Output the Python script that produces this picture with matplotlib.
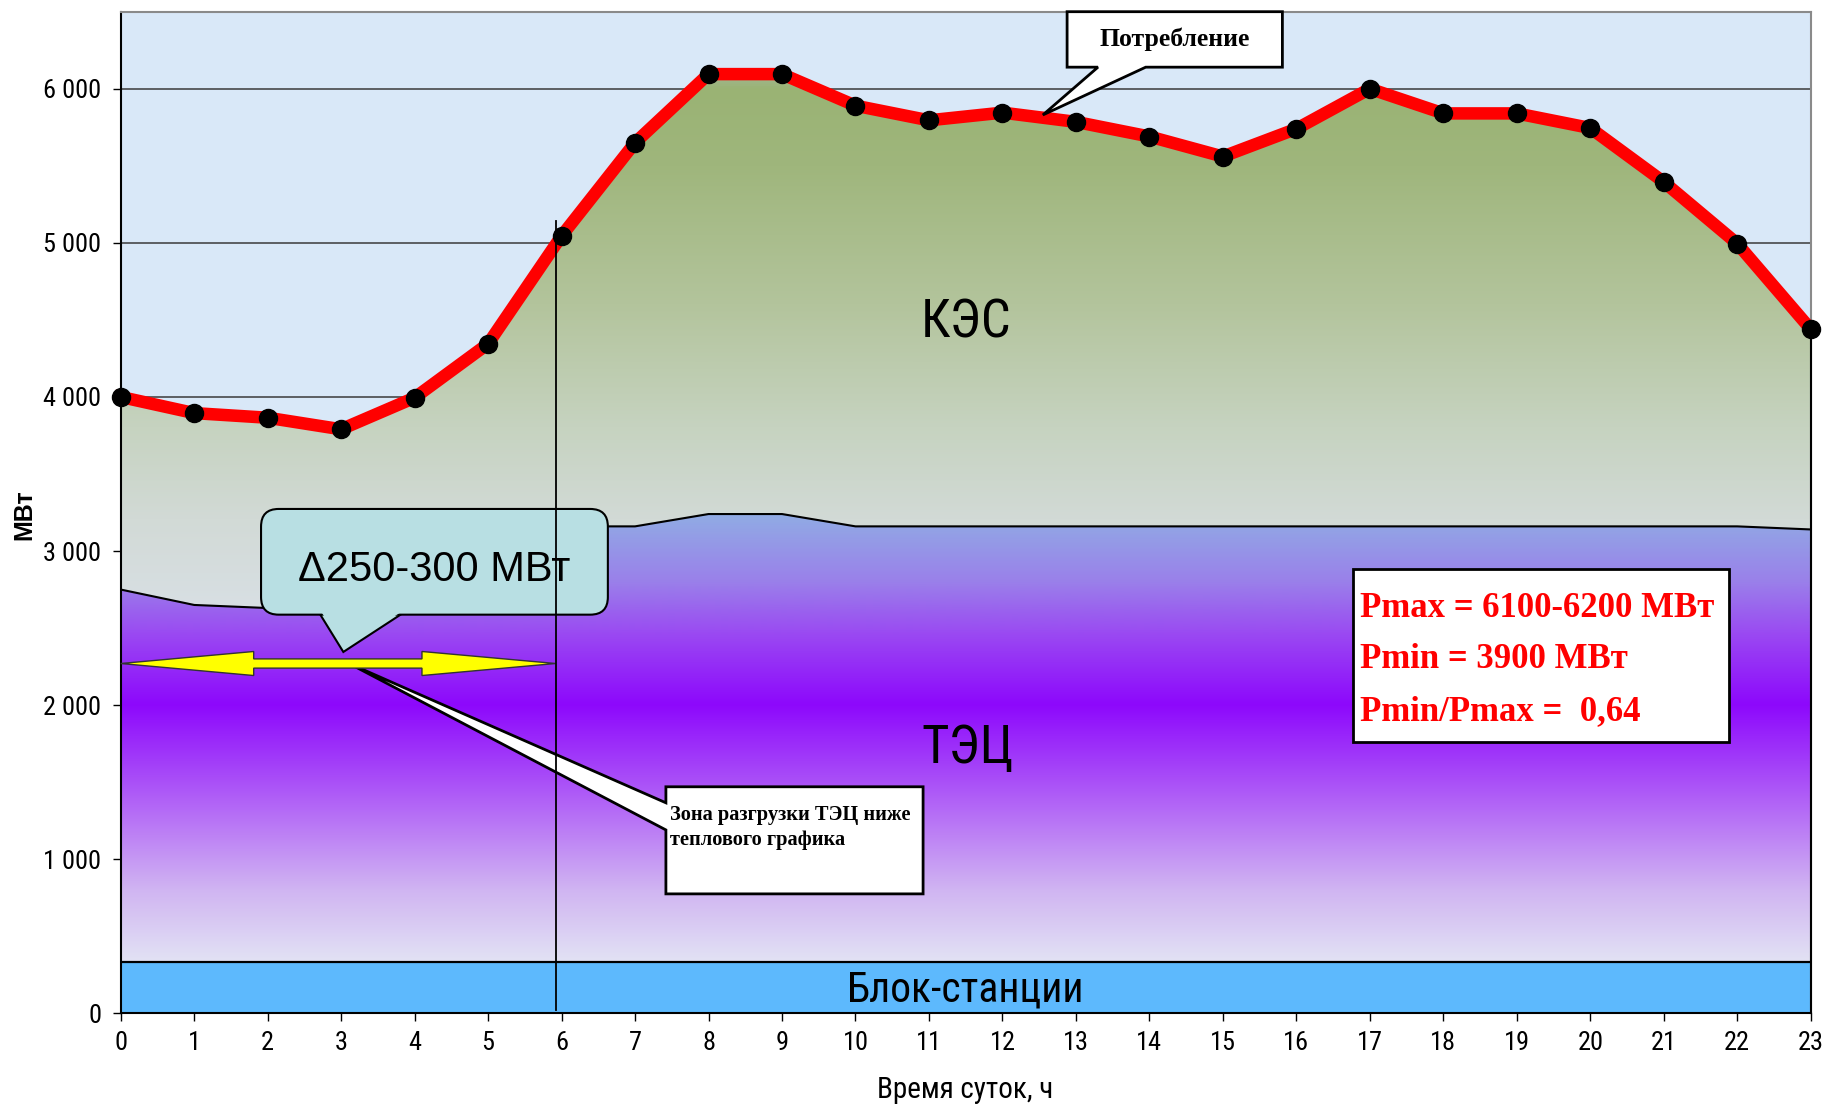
import numpy as np
import matplotlib.pyplot as plt
from matplotlib.colors import LinearSegmentedColormap
from matplotlib.patches import Polygon, Rectangle, FancyBboxPatch

plt.rcParams['font.family'] = ['Roboto Condensed', 'Liberation Sans', 'DejaVu Sans']
SERIF = ['Liberation Serif', 'DejaVu Serif']

# данные
hours = list(range(24))
consumption = [4000, 3895, 3865, 3790, 3995, 4345, 5045, 5650, 6095, 6095, 5890, 5795,
               5845, 5785, 5690, 5560, 5740, 6000, 5840, 5840, 5745, 5395, 4995, 4440]
tec_hours = [0, 1, 2, 3, 4, 5, 5.93, 5.93, 7, 8, 9, 10, 11, 12, 13, 14, 15, 16,
             17, 18, 19, 20, 21, 22, 23]
tec_top = [2750, 2650, 2630, 2620, 2610, 2600, 2600, 3160, 3160, 3240, 3240, 3160, 3160,
           3160, 3160, 3160, 3160, 3160, 3160, 3160, 3160, 3160, 3160, 3160, 3140]
block = 330
yticks = [0, 1000, 2000, 3000, 4000, 5000, 6000]
ylabels = ['0', '1 000', '2 000', '3 000', '4 000', '5 000', '6 000']
xticks = list(range(24))

W, H = 1828, 1107
fig = plt.figure(figsize=(W / 100, H / 100), dpi=100)
ax = fig.add_axes([120.7 / W, 1 - 1013.3 / H, 1690 / W, 1001.6 / H])
ax.set_facecolor('#d9e8f8')


def gradient_fill(verts, y0, y1, stops, z):
    poly = Polygon(verts, closed=True, facecolor='none', edgecolor='none')
    ax.add_patch(poly)
    cm = LinearSegmentedColormap.from_list(
        'g', [((v - y0) / (y1 - y0), c) for v, c in stops])
    img = ax.imshow(np.linspace(0, 1, 512).reshape(-1, 1), extent=(0, 23, y0, y1),
                    origin='lower', aspect='auto', cmap=cm, zorder=z,
                    interpolation='bilinear')
    img.set_clip_path(poly)


# блок-станции
ax.add_patch(Rectangle((0, 0), 23, block, facecolor='#5db9fd', edgecolor='none', zorder=2))
ax.plot([0, 23], [block, block], color='black', lw=1.6, zorder=3)

# ТЭЦ
tec_verts = list(zip(tec_hours, tec_top)) + [(23, block), (0, block)]
gradient_fill(tec_verts, block, 3260,
              [(block, '#e2e2f4'), (800, '#d0b4f2'), (1300, '#b56cf6'),
               (2000, '#8d08fc'), (2450, '#9a48f2'), (2800, '#9a80ea'), (3260, '#90aee4')], 1.5)
ax.plot(tec_hours, tec_top, color='black', lw=1.5, zorder=3)

# КЭС
kes_verts = list(zip(hours, consumption)) + list(zip(tec_hours[::-1], tec_top[::-1]))
gradient_fill(kes_verts, 2500, 6200,
              [(2500, '#d9e0e6'), (3200, '#d2dad6'), (3800, '#c6d3c0'), (4600, '#b3c49c'),
               (5500, '#9fb67c'), (6000, '#9ab374'), (6200, '#aabcb8')], 1.5)
ax.plot([23, 23], [0, consumption[-1]], color='black', lw=1.5, zorder=3, clip_on=False)

ax.set_xlim(0, 23)
ax.set_ylim(0, 6500)

# сетка
for y in yticks[1:]:
    ax.axhline(y, color='#3a3a3a', lw=1.1, zorder=0.5)

# потребление
ax.plot(hours, consumption, color='#ff0000', lw=9, zorder=5, clip_on=False,
        marker='o', ms=13, mfc='black', mec='black')

# подписи зон
ax.text(11.5, 4480, 'КЭС', fontsize=38, ha='center', va='center', zorder=6)
ax.text(11.53, 1720, 'ТЭЦ', fontsize=38, ha='center', va='center', zorder=6)
ax.text(11.5, 150, 'Блок-станции', fontsize=30, ha='center', va='center', zorder=6)

# выноска "Потребление"
p_box = [(12.88, 6500), (15.81, 6500), (15.81, 6140), (13.95, 6140), (12.55, 5830),
         (13.3, 6140), (12.88, 6140)]
ax.add_patch(Polygon(p_box, closed=True, facecolor='white', edgecolor='black', lw=2,
                     zorder=7, clip_on=False))
ax.text(14.35, 6320, 'Потребление', family=SERIF, fontweight='bold',
        fontsize=18.5, ha='center', va='center', zorder=8)

# выноска "Зона разгрузки"
z_box = [(7.42, 1470), (10.92, 1470), (10.92, 775), (7.42, 775), (7.42, 1190),
         (3.1, 2272), (7.42, 1366)]
ax.add_patch(Polygon(z_box, closed=True, facecolor='white', edgecolor='black', lw=2,
                     zorder=6))
ax.text(7.48, 1256, 'Зона разгрузки ТЭЦ ниже', family=SERIF,
        fontweight='bold', fontsize=14.7, ha='left', va='baseline', zorder=8)
ax.text(7.48, 1094, 'теплового графика', family=SERIF,
        fontweight='bold', fontsize=14.7, ha='left', va='baseline', zorder=8)

# двойная стрелка
yc = 2270
arrow = [(0, yc), (1.81, yc + 78), (1.81, yc + 30), (4.10, yc + 30), (4.10, yc + 78),
         (5.92, yc), (4.10, yc - 78), (4.10, yc - 30), (1.81, yc - 30), (1.81, yc - 78)]
ax.add_patch(Polygon(arrow, closed=True, facecolor='#ffff00', edgecolor='#333333', lw=1,
                     zorder=7, clip_on=False))

# выноска "Δ250-300 МВт"
d_color = '#b8dfe3'
tail = [(2.70, 2600), (3.03, 2345), (3.85, 2600)]
ax.add_patch(Polygon(tail, closed=True, facecolor=d_color, edgecolor='black', lw=1.5,
                     zorder=8))
ax.add_patch(FancyBboxPatch((1.91, 2587), 4.72, 686,
                            boxstyle='round,pad=0,rounding_size=0.24', mutation_aspect=477,
                            facecolor=d_color, edgecolor='black', lw=1.5, zorder=8))
ax.add_patch(Polygon([(2.73, 2605), (3.04, 2370), (3.82, 2605)], closed=True,
                     facecolor=d_color, edgecolor='none', zorder=8.5))
ax.text(4.27, 2880, 'Δ250-300 МВт', family=['Liberation Sans', 'DejaVu Sans'], fontsize=30,
        ha='center', va='center', zorder=9)

# вертикальная граница
ax.plot([5.93, 5.93], [20, 5140], color='black', lw=1.3, zorder=9)

# блок с Pmax/Pmin
ax.add_patch(Rectangle((16.77, 1760), 5.12, 1125, facecolor='white', edgecolor='black',
                       lw=2, zorder=7))
for txt, yb in [('Pmax = 6100-6200 МВт', 2573), ('Pmin = 3900 МВт', 2240),
                ('Pmin/Pmax =  0,64', 1904)]:
    ax.text(16.86, yb, txt, family=SERIF, fontweight='bold', fontsize=25,
            color='#ff0000', ha='left', va='baseline', zorder=8)

# оси
ax.set_xticks(xticks)
ax.set_xticklabels([str(h) for h in xticks])
ax.set_yticks(yticks)
ax.set_yticklabels(ylabels)
ax.tick_params(axis='both', direction='out', length=6, width=1, labelsize=19)
ax.tick_params(axis='x', pad=7)
ax.tick_params(axis='y', pad=8)
for s in ['left', 'bottom']:
    ax.spines[s].set_color('black')
    ax.spines[s].set_linewidth(1.5)
for s in ['top', 'right']:
    ax.spines[s].set_color('#8a8a8a')
    ax.spines[s].set_linewidth(1.5)

fig.text(965 / W, 1 - 1090 / H, 'Время суток, ч', fontsize=21, ha='center', va='center')
fig.text(24 / W, 1 - 515 / H, 'МВт', family=['Liberation Sans', 'DejaVu Sans'],
         fontweight='bold', fontsize=18, rotation=90, ha='center', va='center')

fig.savefig('out.png', dpi=100)
